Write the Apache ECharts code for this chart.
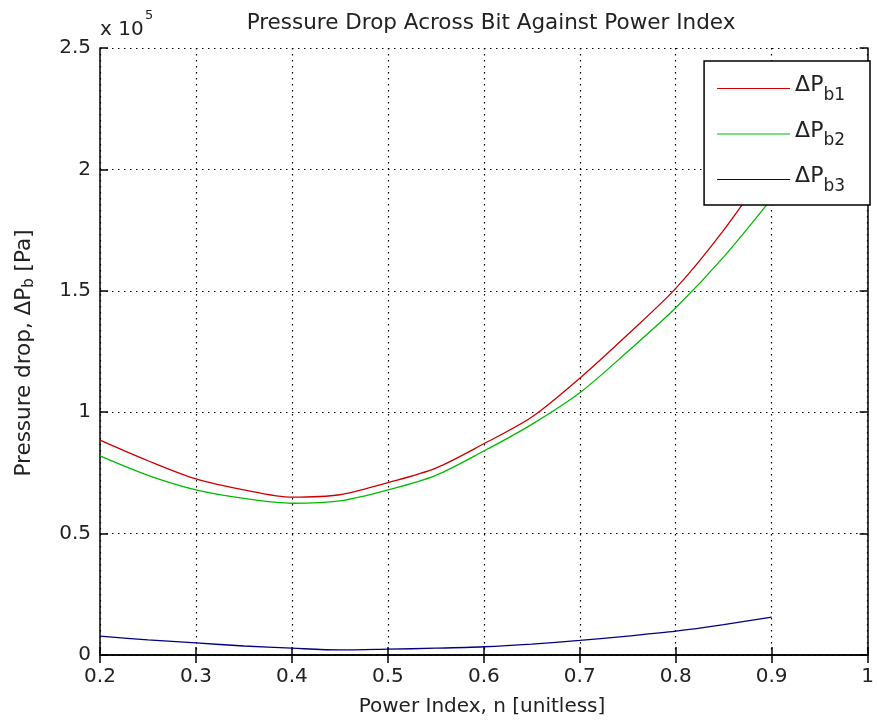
<!DOCTYPE html>
<html><head><meta charset="utf-8">
<script src="https://cdn.jsdelivr.net/npm/echarts@6/dist/echarts.min.js"></script>
<style>html,body{margin:0;padding:0;background:#fff}#c{width:877px;height:726px}</style>
</head><body><div id="c"></div>
<script>
const powerIndex = [0.2,0.25,0.3,0.35,0.4,0.45,0.5,0.55,0.6,0.65,0.7,0.75,0.8,0.85,0.9];
const dPb1 = [0.885,0.80,0.725,0.68,0.65,0.66,0.71,0.77,0.87,0.98,1.14,1.32,1.51,1.75,2.03];
const dPb2 = [0.82,0.74,0.68,0.645,0.625,0.635,0.68,0.74,0.84,0.95,1.08,1.25,1.43,1.64,1.88];
const dPb3 = [0.078,0.062,0.05,0.037,0.028,0.021,0.024,0.028,0.034,0.045,0.06,0.078,0.098,0.125,0.156];
const xTicks = ['0.2','0.3','0.4','0.5','0.6','0.7','0.8','0.9','1'];
const yTicks = ['0','0.5','1','1.5','2','2.5'];
const seriesNames = ['b1','b2','b3'];
const colors = ['#cc0000','#00bb00','#000080'];

const font = '"DejaVu Sans", sans-serif';
const FS = 20;
const pairs = a => powerIndex.map((x,i)=>[x,a[i]]);
const chart = echarts.init(document.getElementById('c'));
const axisLine = {show:true, lineStyle:{color:'#000', width:1.5}};
const tick = {show:true, inside:true, length:8, lineStyle:{color:'#000', width:1.5}};
chart.setOption({
  animation:false,
  backgroundColor:'#fff',
  title:{text:'Pressure Drop Across Bit Against Power Index', left:486, top:7, textAlign:'center',
    textStyle:{fontFamily:font, fontSize:21.5, fontWeight:'normal', color:'#222'}},
  grid:{left:100, right:5, top:48, bottom:71},
  legend:{
    orient:'vertical', right:7, top:61,
    data: seriesNames.map(n=>'ΔP' + n),
    backgroundColor:'#fff', borderColor:'#000', borderWidth:1.5,
    padding:[12,25,10,13], itemWidth:73, itemHeight:28, itemGap:14.5,
    icon:'path://M0,13.5 L73,13.5 L73,14.5 L0,14.5 Z',
    formatter: name => '{m|ΔP}{s|' + name.slice(2) + '}',
    textStyle:{rich:{
      m:{fontFamily:font, fontSize:22, color:'#222', lineHeight:28, verticalAlign:'top'},
      s:{fontFamily:font, fontSize:17, color:'#222', lineHeight:28, padding:[14,0,0,0]}
    }}
  },
  graphic:[
    {type:'text', left:100, top:20, style:{text:'x 10', font:FS+'px '+font, fill:'#222'}},
    {type:'text', left:145, top:9, style:{text:'5', font:'13px '+font, fill:'#222'}},
    {type:'text', x:482, y:697, style:{text:'Power Index, n [unitless]', font:FS+'px '+font, fill:'#222', textAlign:'center'}},
    {type:'text', x:12, y:353, rotation:Math.PI/2, style:{
      rich:{
        m:{font:'21.5px '+font, fill:'#222'},
        s:{font:'15px '+font, fill:'#222', padding:[10,0,0,0]}
      }, text:'{m|Pressure drop, ΔP}{s|b}{m| [Pa]}', align:'center', verticalAlign:'top'}}
  ],
  xAxis:[
    {type:'value', min:0.2, max:1, interval:0.1, axisLine, axisTick:tick,
     axisLabel:{color:'#222', fontFamily:font, fontSize:FS, margin:12, formatter:(v)=>xTicks[Math.round((v-0.2)*10)]},
     splitLine:{show:true, lineStyle:{color:'#000', type:[1.5,4.5], width:1.2}}},
    {type:'value', position:'top', min:0.2, max:1, interval:0.1, axisLine, axisTick:tick, axisLabel:{show:false}, splitLine:{show:false}}
  ],
  yAxis:[
    {type:'value', min:0, max:2.5, interval:0.5, axisLine, axisTick:tick,
     axisLabel:{color:'#222', fontFamily:font, fontSize:FS, margin:9, formatter:(v)=>yTicks[Math.round(v*2)]},
     splitLine:{show:true, lineStyle:{color:'#000', type:[1.5,4.5], width:1.2}}},
    {type:'value', position:'right', min:0, max:2.5, interval:0.5, axisLine, axisTick:tick, axisLabel:{show:false}, splitLine:{show:false}}
  ],
  series:[dPb1,dPb2,dPb3].map((d,i)=>({
    name:'ΔP'+seriesNames[i], type:'line', data:pairs(d), smooth:0.3, showSymbol:false,
    lineStyle:{color:colors[i], width:1.3}, itemStyle:{color:colors[i]}
  }))
});
</script></body></html>
